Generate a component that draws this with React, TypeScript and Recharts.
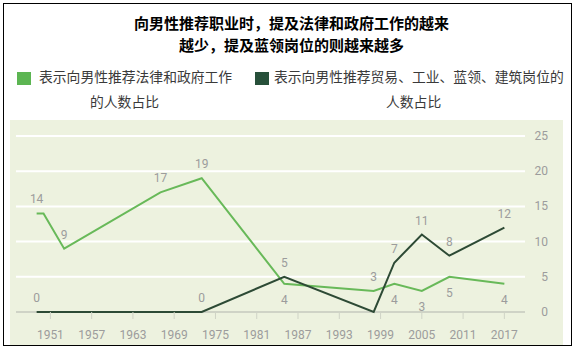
import { LineChart, Line, XAxis, YAxis, CartesianGrid, LabelList } from 'recharts'

// survey years and shares (%)
const years = [1949, 1950, 1953, 1967, 1973, 1985, 1998, 2001, 2005, 2009, 2017]
const lawGov = [14, 14, 9, 17, 19, 4, 3, 4, 3, 5, 4]
const trades = [0, 0, 0, 0, 0, 5, 0, 7, 11, 8, 12]

// where each point's value label goes ('' = no label)
const lawGovLabelPos = ['top', '', 'top', 'top', 'top', 'bottom', 'top', 'bottom', 'bottom', 'bottom', 'bottom']
const tradesLabelPos = ['top', '', '', '', 'top', 'top', '', 'top', 'top', 'top', 'top']

const xTicks = [1951, 1957, 1963, 1969, 1975, 1981, 1987, 1993, 1999, 2005, 2011, 2017]
const yTicks = [0, 5, 10, 15, 20, 25]

const titleLines = ['向男性推荐职业时，提及法律和政府工作的越来', '越少，提及蓝领岗位的则越来越多']
const lawGovName = ['表示向男性推荐法律和政府工作', '的人数占比']
const tradesName = ['表示向男性推荐贸易、工业、蓝领、建筑岗位的', '人数占比']

const LIGHT = '#68b959'
const DARK = '#2d4a35'
const GREY = '#9c9c9c'
const AXIS = '#cfd3c6'

const data = years.map((year, i) => ({ year, lawGov: lawGov[i], trades: trades[i] }))

const makeLabel = (positions: string[]) => (props: any) => {
  const { x, y, value, index } = props
  const pos = positions[index]
  if (!pos) return null
  return (
    <text
      x={x}
      y={pos === 'top' ? y - 10 : y + 20}
      textAnchor="middle"
      fontSize={12}
      fontFamily="Roboto"
      fill={GREY}
    >
      {value}
    </text>
  )
}

// white grid lines, the bottom (zero) one grey like an axis line
const gridLine = (props: any) => {
  const { x1, x2, y1, y2, y, height, index } = props
  const isBase = Math.abs(y1 - (y + height)) < 0.5
  return (
    <line
      key={`g-${index}`}
      x1={x1}
      x2={x2}
      y1={y1}
      y2={y2}
      stroke={isBase ? AXIS : '#ffffff'}
      strokeWidth={2}
    />
  )
}

const XTick = (props: any) => {
  const { x, y, payload } = props
  return (
    <text x={x} y={y + 18} textAnchor="middle" fontSize={12} fontFamily="Roboto" fill={GREY}>
      {payload.value}
    </text>
  )
}

const YTick = (props: any) => {
  const { x, y, payload } = props
  return (
    <text x={x + 23} y={y + 4} textAnchor="end" fontSize={12} fontFamily="Roboto" fill={GREY}>
      {payload.value}
    </text>
  )
}

const legendFont = {
  position: 'absolute' as const,
  fontFamily: '"Noto Sans CJK SC"',
  fontSize: 13.8,
  color: '#3a3a3a',
  whiteSpace: 'nowrap' as const,
  lineHeight: '18px',
}

export default function App() {
  return (
    <div
      style={{
        position: 'absolute',
        left: 0,
        top: 0,
        width: 575,
        height: 351,
        background: '#fff',
        overflow: 'hidden',
      }}
    >
      <div
        style={{
          position: 'absolute',
          left: 3,
          top: 3,
          width: 569,
          height: 343,
          border: '1px solid #000',
          boxSizing: 'border-box',
        }}
      />
      <div style={{ position: 'absolute', left: 10, top: 120, width: 553, height: 225, background: '#edf2df' }} />

      <div
        style={{
          position: 'absolute',
          left: 4,
          top: 12,
          width: 575,
          textAlign: 'center',
          fontFamily: '"Noto Sans CJK SC"',
          fontWeight: 700,
          fontSize: 15,
          lineHeight: '22px',
          color: '#000',
        }}
      >
        {titleLines.map((t) => (
          <div key={t}>{t}</div>
        ))}
      </div>

      <div style={{ position: 'absolute', left: 17, top: 72, width: 14, height: 13, background: '#5cb552' }} />
      <div style={{ ...legendFont, left: 39, top: 67 }}>{lawGovName[0]}</div>
      <div style={{ ...legendFont, left: 90, top: 92 }}>{lawGovName[1]}</div>

      <div style={{ position: 'absolute', left: 255, top: 72, width: 14, height: 13, background: '#27503a' }} />
      <div style={{ ...legendFont, left: 274, top: 67 }}>{tradesName[0]}</div>
      <div style={{ ...legendFont, left: 386, top: 92 }}>{tradesName[1]}</div>

      <div style={{ position: 'absolute', left: 0, top: 0 }}>
        <LineChart width={575} height={351} data={data} margin={{ top: 136, right: 10, left: 16, bottom: 9 }}>
          <CartesianGrid horizontal={gridLine} vertical={false} />
          <XAxis
            dataKey="year"
            type="number"
            domain={[1946, 2020]}
            ticks={xTicks}
            height={30}
            axisLine={false}
            tickLine={{ stroke: AXIS }}
            tickSize={7}
            tick={<XTick />}
            interval={0}
          />
          <YAxis
            orientation="right"
            domain={[0, 25]}
            ticks={yTicks}
            width={40}
            axisLine={false}
            tickLine={false}
            tickSize={0}
            tickMargin={0}
            tick={<YTick />}
            interval={0}
          />
          <Line
            type="linear"
            dataKey="lawGov"
            stroke={LIGHT}
            strokeWidth={2}
            dot={false}
            isAnimationActive={false}
          >
            <LabelList dataKey="lawGov" content={makeLabel(lawGovLabelPos)} />
          </Line>
          <Line
            type="linear"
            dataKey="trades"
            stroke={DARK}
            strokeWidth={2}
            dot={false}
            isAnimationActive={false}
          >
            <LabelList dataKey="trades" content={makeLabel(tradesLabelPos)} />
          </Line>
        </LineChart>
      </div>
    </div>
  )
}
